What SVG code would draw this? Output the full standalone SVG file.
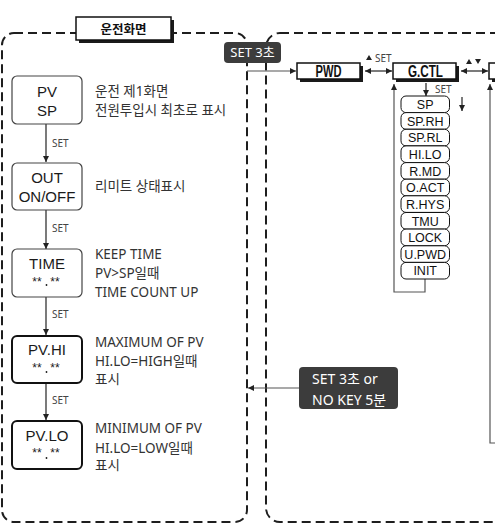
<svg xmlns="http://www.w3.org/2000/svg" width="495" height="525" viewBox="0 0 495 525">
<defs>
<style>
.reg{fill:none;stroke:#1e1e1e;stroke-width:2;stroke-dasharray:9 5}
.nd{fill:#fff;stroke:#444;stroke-width:1.2}
.ndb{fill:#fff;stroke:#111;stroke-width:2}
.nt{font-family:"Liberation Sans",Arial,sans-serif;font-size:15px;fill:#1a1a1a;text-anchor:middle}
.ast{font-family:"Liberation Sans",Arial,sans-serif;font-size:12px;fill:#1a1a1a;text-anchor:middle}
.desc{font-family:"Noto Sans","Noto Sans CJK KR",sans-serif;font-size:13.5px;fill:#333}
.lbl{font-family:"Noto Sans","Noto Sans CJK KR",sans-serif;font-size:10px;fill:#444}
.ln{fill:none;stroke:#222;stroke-width:1.2}
.ln2{fill:none;stroke:#555;stroke-width:1.2}
.bx{fill:#fff;stroke:#111;stroke-width:1.5}
.sh{fill:#1a1a1a}
.bt{font-family:"Liberation Sans",Arial,sans-serif;font-weight:bold;font-size:16px;fill:#111;text-anchor:middle}
.pb{fill:#fff;stroke:#111;stroke-width:1}
.pt{font-family:"Liberation Sans",Arial,sans-serif;font-size:12.5px;fill:#111;text-anchor:middle}
.badge{fill:#3c3c3c}
.bdt{font-family:"Noto Sans","Noto Sans CJK KR",sans-serif;fill:#fff}
.tri{fill:#222}
</style>
<marker id="ah" viewBox="0 0 10 10" refX="10" refY="5" markerWidth="7" markerHeight="6" orient="auto-start-reverse" markerUnits="userSpaceOnUse">
<path d="M0,0 L10,5 L0,10 z" fill="#222"/>
</marker>
</defs>
<rect width="495" height="525" fill="#fff"/>

<g id="regions">
<rect class="reg" x="2" y="33" width="245" height="489" rx="12"/>
<rect class="reg" x="266" y="33" width="260" height="489" rx="14"/>
</g>

<g id="title">
<rect class="sh" x="79" y="20" width="95" height="23"/>
<rect class="bx" x="76" y="17" width="95" height="23"/>
<text x="123.5" y="33.5" text-anchor="middle" font-family="'Noto Sans CJK KR',sans-serif" font-weight="bold" font-size="12.5px" fill="#111">운전화면</text>
</g>

<g id="connectors">
<line class="ln" x1="46" y1="124" x2="46" y2="162" marker-end="url(#ah)"/>
<line class="ln" x1="46" y1="210" x2="46" y2="249" marker-end="url(#ah)"/>
<line class="ln" x1="46" y1="297" x2="46" y2="335" marker-end="url(#ah)"/>
<line class="ln" x1="46" y1="383" x2="46" y2="420" marker-end="url(#ah)"/>
<line class="ln2" x1="247" y1="71" x2="296" y2="71" marker-end="url(#ah)"/>
<line class="ln" x1="365" y1="71" x2="392" y2="71" marker-start="url(#ah)" marker-end="url(#ah)"/>
<line class="ln" x1="461" y1="71" x2="488" y2="71" marker-start="url(#ah)" marker-end="url(#ah)"/>
<line class="ln" x1="426" y1="83" x2="426" y2="96" marker-end="url(#ah)"/>
<line class="ln" x1="462" y1="97" x2="462" y2="111" marker-end="url(#ah)"/>
<polyline class="ln2" points="425,279 425,292 394,292 394,84" marker-end="url(#ah)"/>
<polyline class="ln2" points="500,443 490,443 490,84" marker-end="url(#ah)"/>
<line class="ln2" x1="299" y1="388" x2="248" y2="388" marker-end="url(#ah)"/>
<text class="lbl" x="52" y="147">SET</text>
<text class="lbl" x="52" y="232">SET</text>
<text class="lbl" x="52" y="318">SET</text>
<text class="lbl" x="52" y="404">SET</text>
<path class="tri" d="M366,60 L372,60 L369,55 z"/>
<text class="lbl" x="375" y="62">SET</text>
<text class="lbl" x="435" y="93">SET</text>
<path class="tri" d="M466,64 L472,64 L469,59 z"/>
<path class="tri" d="M475,59 L481,59 L478,64 z"/>
</g>

<g id="badge1">
<rect class="badge" x="224" y="42" width="57" height="21" rx="4"/>
<text class="bdt" x="252.5" y="57" font-size="13px" text-anchor="middle">SET 3초</text>
</g>

<g id="badge2">
<rect class="badge" x="299" y="367" width="99" height="42" rx="4"/>
<text class="bdt" x="312" y="384" font-size="14px">SET 3초 or</text>
<text class="bdt" x="312" y="405" font-size="14px">NO KEY 5분</text>
</g>

<g id="node-pvsp">
<rect class="nd" x="12" y="76" width="70" height="48" rx="5"/>
<text class="nt" x="47" y="97">PV</text>
<text class="nt" x="47" y="116">SP</text>
<text class="desc" x="95" y="96">운전 제1화면</text>
<text class="desc" x="95" y="115">전원투입시 최초로 표시</text>
</g>

<g id="node-out">
<rect class="nd" x="12" y="163" width="70" height="47" rx="5"/>
<text class="nt" x="47" y="183">OUT</text>
<text class="nt" x="47" y="202">ON/OFF</text>
<text class="desc" x="95" y="191">리미트 상태표시</text>
</g>

<g id="node-time">
<rect class="nd" x="12" y="249" width="70" height="48" rx="5"/>
<text class="nt" x="47" y="269">TIME</text>
<text class="ast" x="37" y="286">**</text>
<text class="ast" x="55" y="286">**</text>
<circle cx="46.5" cy="285" r="0.9" fill="#1a1a1a"/>
<text class="desc" x="95" y="259">KEEP TIME</text>
<text class="desc" x="95" y="278">PV&gt;SP일때</text>
<text class="desc" x="95" y="297">TIME COUNT UP</text>
</g>

<g id="node-pvhi">
<rect class="ndb" x="12" y="336" width="70" height="47" rx="5"/>
<text class="nt" x="47" y="355">PV.HI</text>
<text class="ast" x="37" y="372">**</text>
<text class="ast" x="55" y="372">**</text>
<circle cx="46.5" cy="372" r="0.9" fill="#1a1a1a"/>
<text class="desc" x="95" y="347">MAXIMUM OF PV</text>
<text class="desc" x="95" y="366">HI.LO=HIGH일때</text>
<text class="desc" x="95" y="384">표시</text>
</g>

<g id="node-pvlo">
<rect class="ndb" x="12" y="421" width="70" height="48" rx="5"/>
<text class="nt" x="47" y="441">PV.LO</text>
<text class="ast" x="37" y="457">**</text>
<text class="ast" x="55" y="457">**</text>
<circle cx="46.5" cy="458" r="0.9" fill="#1a1a1a"/>
<text class="desc" x="95" y="433">MINIMUM OF PV</text>
<text class="desc" x="95" y="453">HI.LO=LOW일때</text>
<text class="desc" x="95" y="470">표시</text>
</g>

<g id="node-pwd">
<rect class="sh" x="300" y="66" width="63" height="16"/>
<rect class="bx" x="297" y="63" width="63" height="16"/>
<text class="bt" x="328.5" y="77" textLength="26" lengthAdjust="spacingAndGlyphs">PWD</text>
</g>

<g id="node-gctl">
<rect class="sh" x="396" y="66" width="63" height="16"/>
<rect class="bx" x="393" y="63" width="63" height="16"/>
<text class="bt" x="425.5" y="77" textLength="35" lengthAdjust="spacingAndGlyphs">G.CTL</text>
</g>

<g id="node-next">
<rect class="sh" x="492" y="66" width="20" height="16"/>
<rect class="bx" x="489" y="63" width="20" height="16"/>
</g>

<g id="params">
<rect class="pb" x="401" y="96" width="48.5" height="16.6" rx="5"/><text class="pt" x="425.2" y="109">SP</text>
<rect class="pb" x="401" y="112.6" width="48.5" height="16.6" rx="5"/><text class="pt" x="425.2" y="125.6">SP.RH</text>
<rect class="pb" x="401" y="129.3" width="48.5" height="16.6" rx="5"/><text class="pt" x="425.2" y="142.3">SP.RL</text>
<rect class="pb" x="401" y="145.9" width="48.5" height="16.6" rx="5"/><text class="pt" x="425.2" y="158.9">HI.LO</text>
<rect class="pb" x="401" y="162.6" width="48.5" height="16.6" rx="5"/><text class="pt" x="425.2" y="175.6">R.MD</text>
<rect class="pb" x="401" y="179.2" width="48.5" height="16.6" rx="5"/><text class="pt" x="425.2" y="192.2">O.ACT</text>
<rect class="pb" x="401" y="195.8" width="48.5" height="16.6" rx="5"/><text class="pt" x="425.2" y="208.8">R.HYS</text>
<rect class="pb" x="401" y="212.5" width="48.5" height="16.6" rx="5"/><text class="pt" x="425.2" y="225.5">TMU</text>
<rect class="pb" x="401" y="229.1" width="48.5" height="16.6" rx="5"/><text class="pt" x="425.2" y="242.1">LOCK</text>
<rect class="pb" x="401" y="245.8" width="48.5" height="16.6" rx="5"/><text class="pt" x="425.2" y="258.8">U.PWD</text>
<rect class="pb" x="401" y="262.4" width="48.5" height="16.6" rx="5"/><text class="pt" x="425.2" y="275.4">INIT</text>
</g>
</svg>
